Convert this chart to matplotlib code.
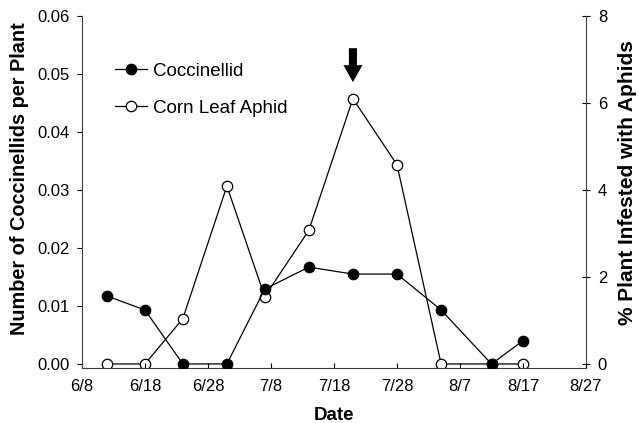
import matplotlib
matplotlib.use("Agg")
import matplotlib.pyplot as plt

plt.rcParams['font.family'] = ['Liberation Sans', 'DejaVu Sans']

# Sampling days (days after 6/8)
days = [4, 10, 16, 23, 29, 36, 43, 50, 57, 65, 70]
coccinellid = [0.0117, 0.0093, 0.0, 0.0, 0.0129, 0.0167, 0.0155, 0.0155, 0.0093, 0.0, 0.0040]
aphid = [0.0, 0.0, 1.04, 4.09, 1.55, 3.07, 6.10, 4.58, 0.0, 0.0, 0.0]

xtick_pos = [0, 10, 20, 30, 40, 50, 60, 70, 80]
xtick_labels = ['6/8', '6/18', '6/28', '7/8', '7/18', '7/28', '8/7', '8/17', '8/27']
left_ticks = [0.00, 0.01, 0.02, 0.03, 0.04, 0.05, 0.06]
right_ticks = [0, 2, 4, 6, 8]
arrow_day = 43

fig = plt.figure(figsize=(6.39, 4.23), dpi=100)
ax = fig.add_axes([82/639, 1-368/423, (586-82)/639, (368-16)/423])
ax2 = ax.twinx()

ax.set_zorder(2)
ax.patch.set_visible(False)

ax.plot(days, coccinellid, color='black', lw=0.9, marker='o', ms=7.5,
        mfc='black', mec='black', mew=0.9, label='Coccinellid', zorder=3)
ax.plot([], [], color='black', lw=0.9, marker='o', ms=7.5, mfc='white',
        mec='black', mew=0.9, label='Corn Leaf Aphid')
ax2.plot(days, aphid, color='black', lw=0.9, marker='o', ms=7.5,
         mfc='white', mec='black', mew=0.9, zorder=3)

ax.set_xlim(0, 80)
ax.set_ylim(-0.0007, 0.06)
ax2.set_ylim(-0.0007 * 8 / 0.06, 8)

ax.set_xticks(xtick_pos)
ax.set_xticklabels(xtick_labels)
ax.set_yticks(left_ticks)
ax.set_yticklabels([f'{v:.2f}' for v in left_ticks])
ax2.set_yticks(right_ticks)

for a in (ax, ax2):
    a.spines['top'].set_visible(False)
    for s in a.spines.values():
        s.set_linewidth(0.8)
        s.set_color('#404040')
ax.spines['right'].set_visible(False)
ax2.spines['left'].set_visible(False)
ax2.spines['bottom'].set_visible(False)

ax.tick_params(axis='x', direction='in', length=3.5, width=0.8, pad=8, labelsize=12)
ax.tick_params(axis='y', direction='out', length=3.6, width=0.8, pad=5.5, labelsize=12)
ax2.tick_params(axis='y', direction='inout', length=6, width=0.8, pad=5.5, labelsize=12)

ax.set_xlabel('Date', fontsize=13.5, fontweight='bold', labelpad=9)
ax.set_ylabel('Number of Coccinellids per Plant', fontsize=14.3, fontweight='bold', labelpad=6)
ax2.set_ylabel('% Plant Infested with Aphids', fontsize=15, fontweight='bold', labelpad=7.5)
ax.yaxis.label.set_y(0.537)
ax2.yaxis.label.set_y(0.528)

ax2.annotate('', xy=(arrow_day, 6.48), xytext=(arrow_day, 7.26),
             arrowprops=dict(arrowstyle='simple,head_width=1.37,head_length=1.22,tail_width=0.58',
                             color='black', lw=0, shrinkA=0, shrinkB=0), zorder=4)

ax.legend(loc='upper left', bbox_to_anchor=(0.065, 0.867), frameon=False, fontsize=13.5,
          handlelength=1.7, handletextpad=0.32, labelspacing=1.06,
          borderpad=0, borderaxespad=0)

fig.savefig('out.png', dpi=100)
